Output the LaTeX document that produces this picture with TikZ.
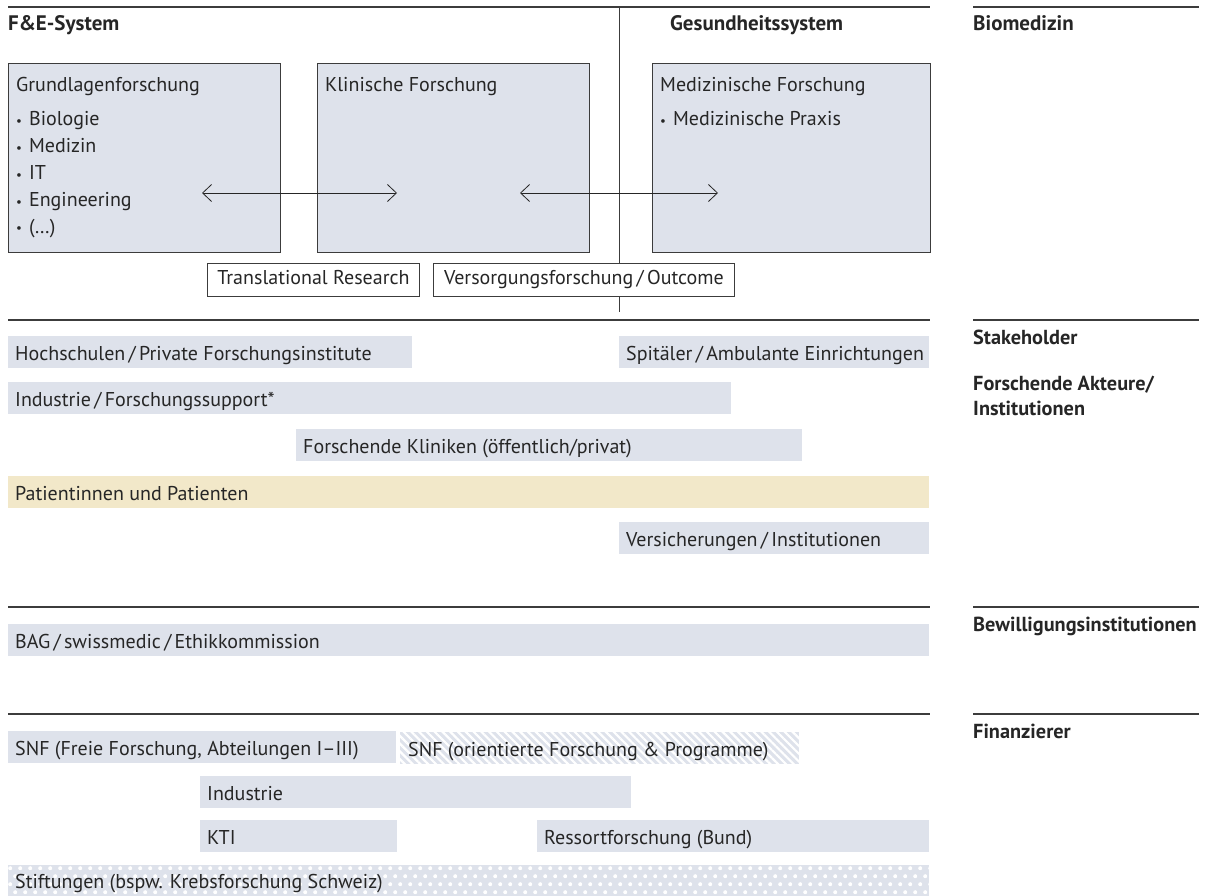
\documentclass[tikz,border=0pt]{standalone}
\usepackage{fontspec}
\setmainfont{PT Sans}
\usetikzlibrary{arrows.meta,patterns.meta}
\definecolor{barfill}{RGB}{222,226,235}
\definecolor{patfill}{RGB}{242,232,201}
\definecolor{ink}{RGB}{38,38,38}
\definecolor{rulec}{RGB}{60,60,60}
\newcommand\mybul{\raisebox{0.5pt}{\fontsize{13}{13}\selectfont\textbullet}\hspace{7pt}}
\newcommand\myslash{\,/\,}
\begin{document}
\begin{tikzpicture}[x=1pt,y=-1pt,
  rulefine/.style={draw=rulec, line width=1.2pt},
  txt/.style={anchor=base west, inner sep=0pt, text=ink, font=\fontsize{20}{24}\selectfont},
  head/.style={anchor=base west, inner sep=0pt, text=ink, font=\fontsize{21}{25}\selectfont\bfseries},
  side/.style={anchor=base west, inner sep=0pt, text=ink, font=\fontsize{20.3}{24}\selectfont\bfseries},
  bigbox/.style={anchor=north west, draw=rulec, fill=barfill, line width=0.9pt, inner sep=0pt},
  tagbox/.style={anchor=north west, draw=rulec, fill=white, line width=0.9pt, inner sep=0pt, minimum height=33pt, text=ink, font=\fontsize{20}{24}\selectfont, text height=14pt, text depth=4pt},
  barbg/.style={anchor=north west, fill=barfill, inner sep=0pt, minimum height=32pt},
  bartxt/.style={anchor=base west, inner sep=0pt, text=ink, font=\fontsize{20}{24}\selectfont},
  twoarrow/.style={draw=ink, line width=0.8pt, {Straight Barb[length=9pt,width=17pt,line width=0.8pt]}-{Straight Barb[length=9pt,width=17pt,line width=0.8pt]}}
]
\useasboundingbox (0,0) rectangle (1209,896);
\fill[white] (0,0) rectangle (1209,896);

% ---------- Biomedizin section ----------
\coordinate (vtop) at (619,7);
\coordinate (vbot) at (619,312);
\draw[rulefine] (8,7) -- (930,7);
\draw[rulefine] (973,7) -- (1199,7);
\draw[draw=rulec, line width=0.9pt] (vtop) -- (vbot);

\node[head] (fe) at (8,31) {F\&E-System};
\node[head] (gs) at (670,31) {Gesundheitssystem};
\node[head] (bm) at (973,31) {Biomedizin};

\node[bigbox, minimum width=272pt, minimum height=189pt] (gl) at (8,63) {};
\node[bigbox, minimum width=272pt, minimum height=189pt] (kf) at (317,63) {};
\node[bigbox, minimum width=278pt, minimum height=189pt] (mf) at (652,63) {};

\node[txt] (glT) at (16,92) {Grundlagenforschung};
\node[txt] (gl1) at (16,126) {\mybul Biologie};
\node[txt] (gl2) at (16,153) {\mybul Medizin};
\node[txt] (gl3) at (16,180) {\mybul IT};
\node[txt] (gl4) at (16,207) {\mybul Engineering};
\node[txt] (gl5) at (16,233) {\mybul (\dots)};
\node[txt] (kfT) at (325,92) {Klinische Forschung};
\node[txt] (mfT) at (660,92) {Medizinische Forschung};
\node[txt] (mf1) at (660,126) {\mybul Medizinische Praxis};

\coordinate (a1s) at (202,193);
\coordinate (a1e) at (397,193);
\coordinate (a2s) at (520,193);
\coordinate (a2e) at (718,193);
\draw[twoarrow] (a1s) -- (a1e);
\draw[twoarrow] (a2s) -- (a2e);

\node[tagbox, minimum width=212pt] (tr) at (207,263) {Translational Research};
\node[tagbox, minimum width=301pt] (vo) at (433,263) {Versorgungsforschung\myslash Outcome};

% ---------- Stakeholder section ----------
\draw[rulefine] (8,320) -- (930,320);
\draw[rulefine] (973,320) -- (1199,320);
\node[side] (sh) at (973,344) {Stakeholder};
\node[side] (fa1) at (973,390) {Forschende Akteure/};
\node[side] (fa2) at (973,415) {Institutionen};

\node[barbg, minimum width=404pt] (hs) at (8,336) {};
\node[bartxt] (hsT) at ([xshift=7pt,yshift=-8pt]hs.west) {Hochschulen\myslash Private Forschungsinstitute};
\node[barbg, minimum width=310pt] (sp) at (619,336) {};
\node[bartxt] (spT) at ([xshift=7pt,yshift=-8pt]sp.west) {Spitäler\myslash Ambulante Einrichtungen};
\node[barbg, minimum width=723pt] (is) at (8,382) {};
\node[bartxt] (isT) at ([xshift=7pt,yshift=-8pt]is.west) {Industrie\myslash Forschungssupport*};
\node[barbg, minimum width=506pt] (fk) at (296,429) {};
\node[bartxt] (fkT) at ([xshift=7pt,yshift=-8pt]fk.west) {Forschende Kliniken (öffentlich/privat)};
\node[barbg, fill=patfill, minimum width=921pt] (pp) at (8,476) {};
\node[bartxt] (ppT) at ([xshift=7pt,yshift=-8pt]pp.west) {Patientinnen und Patienten};
\node[barbg, minimum width=310pt] (vi) at (619,522) {};
\node[bartxt] (viT) at ([xshift=7pt,yshift=-8pt]vi.west) {Versicherungen\myslash Institutionen};

% ---------- Bewilligung section ----------
\draw[rulefine] (8,607) -- (930,607);
\draw[rulefine] (973,607) -- (1199,607);
\node[side] (bw) at (973,631) {Bewilligungsinstitutionen};
\node[barbg, minimum width=921pt] (bag) at (8,624) {};
\node[bartxt] (bagT) at ([xshift=7pt,yshift=-8pt]bag.west) {BAG\myslash swissmedic\myslash Ethikkommission};

% ---------- Finanzierer section ----------
\draw[rulefine] (8,714) -- (930,714);
\draw[rulefine] (973,714) -- (1199,714);
\node[side] (fi) at (973,738) {Finanzierer};

\node[barbg, minimum width=388pt] (snf1) at (8,731) {};
\node[bartxt] (snf1T) at ([xshift=7pt,yshift=-8pt]snf1.west) {SNF (Freie Forschung, Abteilungen I--III)};
\node[barbg, minimum width=399pt, fill=none,
  preaction={fill=barfill},
  pattern={Lines[angle=-45,distance=5.5pt,line width=2.2pt]}, pattern color=white] (snf2) at (399,731) {};
\node[bartxt] (snf2T) at ([xshift=9pt,yshift=-8pt]snf2.west) {SNF (orientierte Forschung \& Programme)};
\node[barbg, minimum width=431pt] (ind) at (200,776) {};
\node[bartxt] (indT) at ([xshift=7pt,yshift=-8pt]ind.west) {Industrie};
\node[barbg, minimum width=197pt] (kti) at (200,820) {};
\node[bartxt] (ktiT) at ([xshift=7pt,yshift=-8pt]kti.west) {KTI};
\node[barbg, minimum width=392pt] (rf) at (537,820) {};
\node[bartxt] (rfT) at ([xshift=7pt,yshift=-8pt]rf.west) {Ressortforschung (Bund)};
\node[barbg, minimum width=921pt, minimum height=31pt,
  path picture={
    \foreach \i in {0,...,93}{
      \foreach \j in {0,...,3}{
        \fill[white] ([xshift={\i*10pt+mod(\j,2)*5pt+2pt}, yshift={-(\j*8pt+3pt)}]path picture bounding box.north west) circle (2pt);
      }
    }
  }] (st) at (8,865) {};
\node[bartxt] (stT) at ([xshift=7pt,yshift=-8pt]st.west) {Stiftungen (bspw. Krebsforschung Schweiz)};
\end{tikzpicture}
\end{document}
